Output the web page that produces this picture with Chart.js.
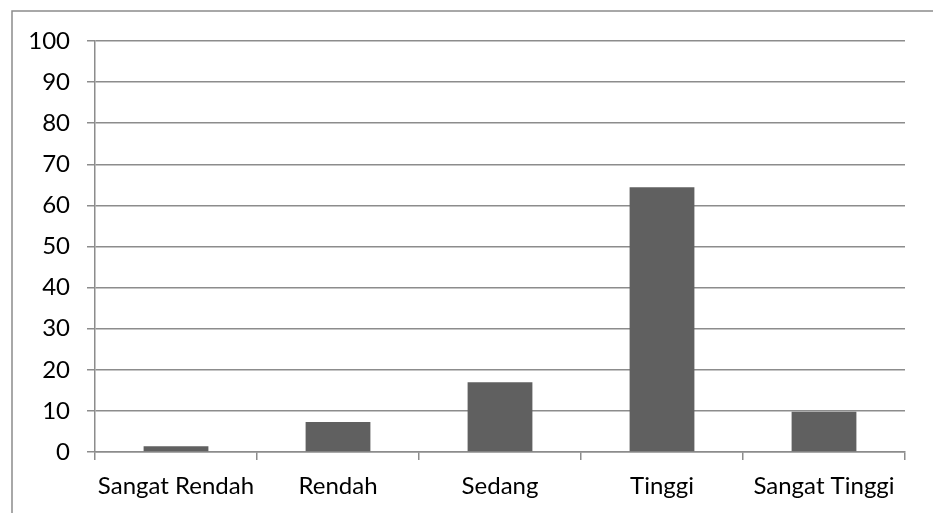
<!DOCTYPE html>
<html>
<head>
<meta charset="utf-8">
<script src="https://cdn.jsdelivr.net/npm/chart.js@4.4.1/dist/chart.umd.min.js"></script>
<style>
  html, body { margin: 0; padding: 0; background: #fff; }
  #wrap { position: relative; width: 933px; height: 513px; }
</style>
</head>
<body>
<div id="wrap"><canvas id="chart" width="933" height="513"></canvas></div>
<script>
// data
var categories = ["Sangat Rendah", "Rendah", "Sedang", "Tinggi", "Sangat Tinggi"];
var values = [1.4, 7.3, 17.0, 64.4, 9.8];
var yTicks = [0, 10, 20, 30, 40, 50, 60, 70, 80, 90, 100];

var gridColor = "#8c8c8c";
var barColor = "#606060";
var fontFamily = "Lato, 'Open Sans', sans-serif";

// thin frame on the left and top like the original chart box
var framePlugin = {
  id: "frame",
  beforeDraw: function (chart) {
    var ctx = chart.ctx;
    ctx.save();
    ctx.strokeStyle = "#8c8c8c";
    ctx.lineWidth = 1.5;
    ctx.beginPath();
    ctx.moveTo(12, chart.height);
    ctx.lineTo(12, 11);
    ctx.lineTo(chart.width, 11);
    ctx.stroke();
    ctx.restore();
  }
};

new Chart(document.getElementById("chart"), {
  type: "bar",
  data: {
    labels: categories,
    datasets: [{
      data: values,
      backgroundColor: barColor,
      borderWidth: 0,
      categoryPercentage: 0.8,
      barPercentage: 0.5
    }]
  },
  plugins: [framePlugin],
  options: {
    responsive: false,
    animation: false,
    devicePixelRatio: 1,
    layout: { padding: { top: 41, right: 28, bottom: 0, left: 0 } },
    plugins: { legend: { display: false }, tooltip: { enabled: false } },
    scales: {
      x: {
        afterFit: function (s) { s.height = 61; },
        grid: {
          offset: true,
          drawOnChartArea: false,
          color: gridColor,
          lineWidth: 1.5,
          tickLength: 8
        },
        border: { color: gridColor, width: 1.5 },
        ticks: {
          color: "#000",
          padding: 12,
          maxRotation: 0,
          autoSkip: false,
          font: { family: fontFamily, size: 24 }
        }
      },
      y: {
        min: 0,
        max: 100,
        afterFit: function (s) { s.width = 95; },
        afterBuildTicks: function (s) {
          s.ticks = yTicks.map(function (v) { return { value: v }; });
        },
        grid: {
          color: gridColor,
          lineWidth: 1.5,
          tickLength: 8
        },
        border: { color: gridColor, width: 1.5 },
        ticks: {
          color: "#000",
          padding: 17,
          font: { family: fontFamily, size: 24 }
        }
      }
    }
  }
});
</script>
</body>
</html>
